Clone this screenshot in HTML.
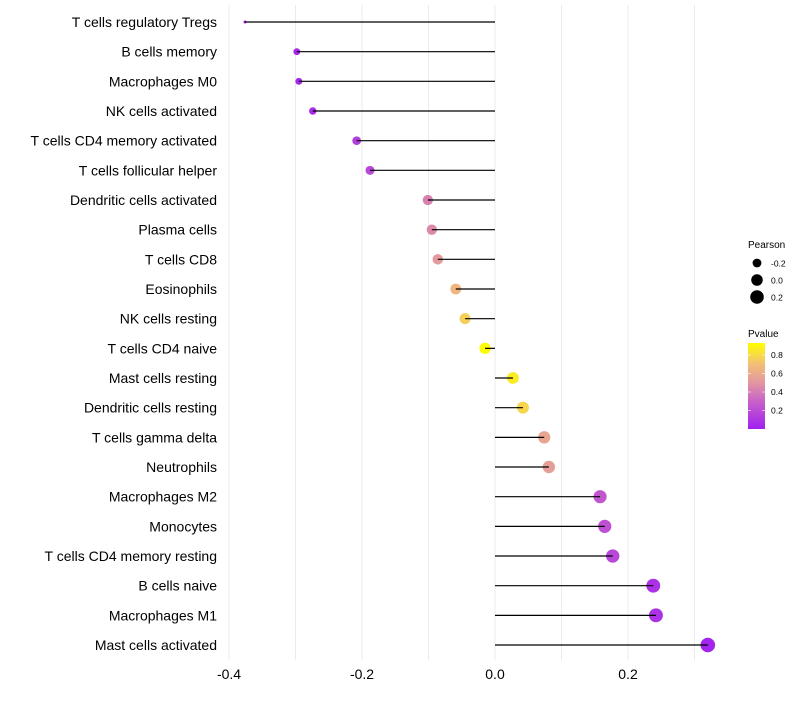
<!DOCTYPE html>
<html><head><meta charset="utf-8"><style>
body{margin:0;background:#fff;font-family:"Liberation Sans",sans-serif}
svg text{font-family:"Liberation Sans",sans-serif}
</style></head><body>
<svg id="chart" width="800" height="700" xmlns="http://www.w3.org/2000/svg"></svg>
<script>
const categories=["T cells regulatory  Tregs","B cells memory","Macrophages M0","NK cells activated","T cells CD4 memory activated","T cells follicular helper","Dendritic cells activated","Plasma cells","T cells CD8","Eosinophils","NK cells resting","T cells CD4 naive","Mast cells resting","Dendritic cells resting","T cells gamma delta","Neutrophils","Macrophages M2","Monocytes","T cells CD4 memory resting","B cells naive","Macrophages M1","Mast cells activated"];
const pearson=[-0.376,-0.298,-0.295,-0.274,-0.208,-0.188,-0.101,-0.095,-0.086,-0.059,-0.045,-0.015,0.027,0.042,0.074,0.081,0.158,0.165,0.177,0.238,0.242,0.320];
const pvalue=[0.01,0.04,0.04,0.06,0.13,0.18,0.42,0.45,0.52,0.66,0.76,0.92,0.86,0.78,0.58,0.54,0.25,0.22,0.18,0.08,0.08,0.02];
const xTicks=[-0.4,-0.2,0.0,0.2];
const xTickLabels=["-0.4","-0.2","0.0","0.2"];
const gridVals=[-0.4,-0.3,-0.2,-0.1,0,0.1,0.2,0.3];
const sizeLegend=[-0.2,0.0,0.2];
const colorLegend=[0.2,0.4,0.6,0.8];

const svg=document.getElementById('chart');
const NS="http://www.w3.org/2000/svg";
const X=v=>495+v*665;
const Y=i=>22+i*29.667;
const pMin=Math.min(...pearson),pMax=Math.max(...pearson);
const R=v=>1.5+Math.sqrt(Math.max(0,(v-pMin)/(pMax-pMin)))*5.8;
const stops=[[0,[160,32,240]],[0.3,[200,98,200]],[0.5,[226,150,160]],[0.7,[242,190,120]],[0.93,[255,255,0]]];
function col(p){
  for(let k=0;k<stops.length-1;k++){const a=stops[k],b=stops[k+1];
    if(p<=b[0]||k==stops.length-2){const t=Math.max(0,Math.min(1,(p-a[0])/(b[0]-a[0])));
      const c=a[1].map((x,j)=>Math.round(x+(b[1][j]-x)*t));return `rgb(${c})`;}}
}
function el(tag,attrs,parent){const e=document.createElementNS(NS,tag);for(const k in attrs)e.setAttribute(k,attrs[k]);(parent||svg).appendChild(e);return e;}

gridVals.forEach(v=>{
  const g=el('line',{x1:X(v),x2:X(v),y1:5,y2:660,stroke:'#ebebeb','stroke-width':1});
  
  
});
categories.forEach((c,i)=>{
  const t=el('text',{x:217,y:Y(i)+5,'text-anchor':'end','font-size':14,fill:'#000'});
  t.textContent=c;
  
  
  const p=el('circle',{cx:X(pearson[i]),cy:Y(i),r:R(pearson[i]),fill:col(pvalue[i])});
  
  
  const s=el('line',{x1:X(0),x2:X(pearson[i]),y1:Y(i),y2:Y(i),stroke:'#000','stroke-width':1.2});
  
  
});
xTicks.forEach((v,i)=>{
  const t=el('text',{x:X(v),y:679,'text-anchor':'middle','font-size':14,fill:'#000'});
  t.textContent=xTickLabels[i];
  
  
});
const lt=el('text',{x:748,y:248,'font-size':10,fill:'#000'});lt.textContent='Pearson';


sizeLegend.forEach((v,i)=>{
  const cy=263+i*17;
  const c=el('circle',{cx:757,cy:cy,r:R(v),fill:'#000'});
  
  
  const t=el('text',{x:771,y:cy+3.5,'font-size':8.5,fill:'#000'});t.textContent=v.toFixed(1);
  
  
});
const ct=el('text',{x:748,y:337,'font-size':10,fill:'#000'});ct.textContent='Pvalue';


const defs=el('defs',{});
const lg=el('linearGradient',{id:'pg',x1:0,y1:1,x2:0,y2:0},defs);
stops.forEach(s=>el('stop',{offset:s[0]/0.93,'stop-color':`rgb(${s[1]})`},lg));
const bar=el('rect',{x:748,y:343,width:17,height:86,fill:'url(#pg)'});


colorLegend.forEach(v=>{
  const y=429-v*(86/0.93);
  el('line',{x1:748,x2:751,y1:y,y2:y,stroke:'#fff','stroke-width':0.6});
  el('line',{x1:762,x2:765,y1:y,y2:y,stroke:'#fff','stroke-width':0.6});
  const t=el('text',{x:771,y:y+3,'font-size':8.5,fill:'#000'});t.textContent=v.toFixed(1);
  
  
});
</script>
</body></html>
